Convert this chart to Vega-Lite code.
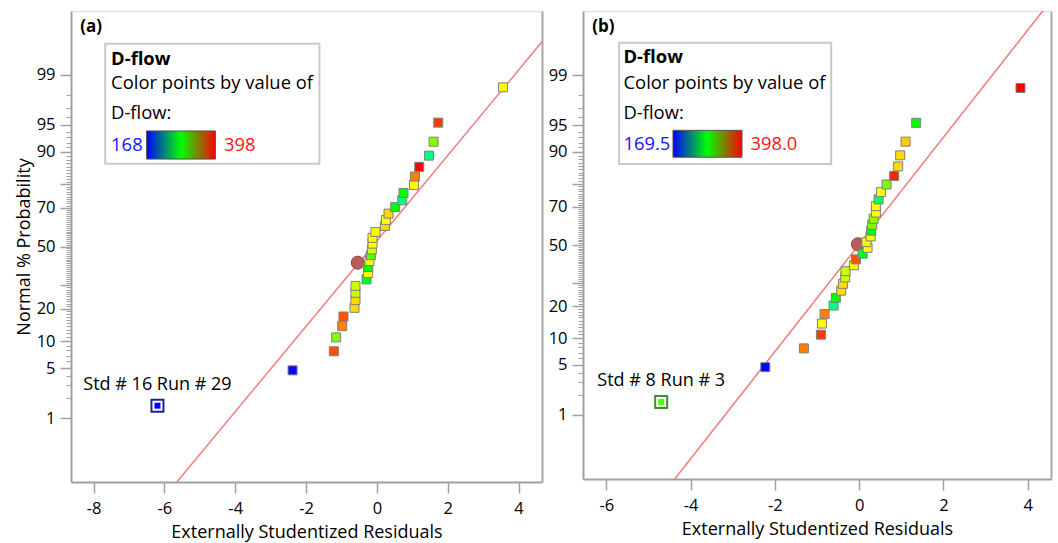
{
  "$schema": "https://vega.github.io/schema/vega-lite/v6.json",
  "padding": {"left": 15, "top": 11, "right": 5, "bottom": 1},
  "spacing": 6,
  "config": {
    "view": {"stroke": null},
    "font": "Open Sans",
    "axis": {"labelFont": "Open Sans", "titleFont": "Open Sans", "labelColor": "#000000", "titleColor": "#000000", "grid": false, "labelOverlap": false, "labelFlush": false},
    "text": {"font": "Open Sans"}
  },
  "resolve": {"scale": {"color": "independent"}},
  "datasets": {
    "left": [
      {"residual": -6.195, "normal_score": -2.154, "dflow": 168, "label": "Std # 16 Run # 29"},
      {"residual": -2.381, "normal_score": -1.676, "dflow": 170},
      {"residual": -1.215, "normal_score": -1.418, "dflow": 380},
      {"residual": -1.150, "normal_score": -1.230, "dflow": 312},
      {"residual": -0.980, "normal_score": -1.078, "dflow": 369},
      {"residual": -0.944, "normal_score": -0.947, "dflow": 380},
      {"residual": -0.633, "normal_score": -0.830, "dflow": 349},
      {"residual": -0.605, "normal_score": -0.725, "dflow": 349},
      {"residual": -0.605, "normal_score": -0.626, "dflow": 329},
      {"residual": -0.605, "normal_score": -0.533, "dflow": 329},
      {"residual": -0.294, "normal_score": -0.445, "dflow": 278},
      {"residual": -0.246, "normal_score": -0.360, "dflow": 340},
      {"residual": -0.246, "normal_score": -0.278, "dflow": 283},
      {"residual": -0.209, "normal_score": -0.197, "dflow": 340},
      {"residual": -0.169, "normal_score": -0.118, "dflow": 300},
      {"residual": -0.141, "normal_score": -0.039, "dflow": 329},
      {"residual": -0.124, "normal_score": 0.039, "dflow": 340},
      {"residual": -0.124, "normal_score": 0.118, "dflow": 340},
      {"residual": -0.040, "normal_score": 0.197, "dflow": 340},
      {"residual": 0.226, "normal_score": 0.278, "dflow": 349},
      {"residual": 0.254, "normal_score": 0.360, "dflow": 340},
      {"residual": 0.328, "normal_score": 0.445, "dflow": 349},
      {"residual": 0.517, "normal_score": 0.533, "dflow": 283},
      {"residual": 0.715, "normal_score": 0.626, "dflow": 254},
      {"residual": 0.751, "normal_score": 0.725, "dflow": 283},
      {"residual": 1.045, "normal_score": 0.830, "dflow": 340},
      {"residual": 1.073, "normal_score": 0.947, "dflow": 369},
      {"residual": 1.195, "normal_score": 1.078, "dflow": 398},
      {"residual": 1.469, "normal_score": 1.230, "dflow": 254},
      {"residual": 1.599, "normal_score": 1.418, "dflow": 312},
      {"residual": 1.732, "normal_score": 1.676, "dflow": 385},
      {"residual": 3.562, "normal_score": 2.154, "dflow": 340}
    ],
    "left_line": [
      {"residual": -5.646, "normal_score": -3.187},
      {"residual": 4.661, "normal_score": 2.770}
    ],
    "left_handle": [{"residual": -0.54, "normal_score": -0.219}],
    "right": [
      {"residual": -4.700, "normal_score": -2.154, "dflow": 300, "label": "Std # 8 Run # 3"},
      {"residual": -2.229, "normal_score": -1.676, "dflow": 169.5},
      {"residual": -1.313, "normal_score": -1.418, "dflow": 369},
      {"residual": -0.909, "normal_score": -1.230, "dflow": 385},
      {"residual": -0.885, "normal_score": -1.078, "dflow": 340},
      {"residual": -0.821, "normal_score": -0.947, "dflow": 369},
      {"residual": -0.608, "normal_score": -0.830, "dflow": 254},
      {"residual": -0.553, "normal_score": -0.725, "dflow": 283},
      {"residual": -0.427, "normal_score": -0.626, "dflow": 349},
      {"residual": -0.387, "normal_score": -0.533, "dflow": 349},
      {"residual": -0.332, "normal_score": -0.445, "dflow": 329},
      {"residual": -0.323, "normal_score": -0.360, "dflow": 329},
      {"residual": -0.126, "normal_score": -0.278, "dflow": 340},
      {"residual": -0.078, "normal_score": -0.197, "dflow": 380},
      {"residual": 0.081, "normal_score": -0.118, "dflow": 275},
      {"residual": 0.199, "normal_score": -0.039, "dflow": 340},
      {"residual": 0.171, "normal_score": 0.039, "dflow": 340},
      {"residual": 0.271, "normal_score": 0.118, "dflow": 340},
      {"residual": 0.285, "normal_score": 0.197, "dflow": 283},
      {"residual": 0.309, "normal_score": 0.278, "dflow": 310},
      {"residual": 0.342, "normal_score": 0.360, "dflow": 315},
      {"residual": 0.396, "normal_score": 0.445, "dflow": 340},
      {"residual": 0.396, "normal_score": 0.533, "dflow": 340},
      {"residual": 0.460, "normal_score": 0.626, "dflow": 260},
      {"residual": 0.515, "normal_score": 0.725, "dflow": 340},
      {"residual": 0.650, "normal_score": 0.830, "dflow": 310},
      {"residual": 0.831, "normal_score": 0.947, "dflow": 390},
      {"residual": 0.926, "normal_score": 1.078, "dflow": 349},
      {"residual": 0.973, "normal_score": 1.230, "dflow": 349},
      {"residual": 1.101, "normal_score": 1.418, "dflow": 352},
      {"residual": 1.353, "normal_score": 1.676, "dflow": 285},
      {"residual": 3.829, "normal_score": 2.154, "dflow": 398}
    ],
    "right_line": [
      {"residual": -4.379, "normal_score": -3.21},
      {"residual": 4.356, "normal_score": 3.21}
    ],
    "right_handle": [{"residual": -0.03, "normal_score": 0.01}]
  },
  "hconcat": [
    {
      "width": 471,
      "height": 471,
      "resolve": {"axis": {"x": "independent", "y": "independent"}},
      "layer": [
        {
          "data": {"name": "left_line"},
          "mark": {"type": "line", "color": "#f37b7b", "strokeWidth": 1.5, "clip": true},
          "encoding": {
            "x": {"field": "residual", "type": "quantitative", "scale": {"domain": [-8.636, 4.661], "nice": false, "zero": false},
                  "axis": {"orient": "top", "domainColor": "#e2e2e2", "domainWidth": 1.5, "ticks": false, "labels": false, "title": null}},
            "y": {"field": "normal_score", "type": "quantitative", "scale": {"domain": [-3.187, 3.187], "nice": false, "zero": false},
                  "axis": {"orient": "right", "domainColor": "#a8a8a8", "domainWidth": 2, "ticks": false, "labels": false, "title": null}}
          }
        },
        {
          "data": {"name": "left_handle"},
          "mark": {"type": "point", "shape": "circle", "filled": true, "size": 170, "fill": "#b85c5c", "stroke": "#874343", "strokeWidth": 1, "opacity": 1},
          "encoding": {
            "x": {"field": "residual", "type": "quantitative", "scale": {"domain": [-8.636, 4.661], "nice": false, "zero": false}, "axis": null},
            "y": {"field": "normal_score", "type": "quantitative", "scale": {"domain": [-3.187, 3.187], "nice": false, "zero": false},
                  "axis": {"orient": "left", "domain": false, "labels": false, "title": null, "tickSize": 5, "tickWidth": 1, "tickColor": "#a0a0a0",
                           "values": [-2.0537,-1.8808,-1.7507,-1.5548,-1.4758,-1.4051,-1.3408,-1.2265,-1.175,-1.1264,-1.0803,-1.0364,-0.9945,-0.9542,-0.9154,-0.8779,-0.8064,-0.7722,-0.7388,-0.7063,-0.6745,-0.6433,-0.6128,-0.5828,-0.5534,-0.4959,-0.4677,-0.4399,-0.4125,-0.3853,-0.3585,-0.3319,-0.3055,-0.2793,-0.2533,-0.2275,-0.2019,-0.1764,-0.151,-0.1257,-0.1004,-0.0753,-0.0502,-0.0251,0.0251,0.0502,0.0753,0.1004,0.1257,0.151,0.1764,0.2019,0.2275,0.2533,0.2793,0.3055,0.3319,0.3585,0.3853,0.4125,0.4399,0.4677,0.4959,0.5534,0.5828,0.6128,0.6433,0.6745,0.7063,0.7388,0.7722,0.8064,0.8779,0.9154,0.9542,0.9945,1.0364,1.0803,1.1264,1.175,1.2265,1.3408,1.4051,1.4758,1.5548,1.7507,1.8808,2.0537]}}
          }
        },
        {
          "data": {"values": [{}]},
          "mark": {"type": "rect", "fill": "#ffffff", "stroke": "#c9c9c9", "strokeWidth": 2},
          "encoding": {
            "x": {"datum": -7.671, "type": "quantitative", "scale": {"domain": [-8.636, 4.661], "nice": false, "zero": false}, "axis": null},
            "x2": {"datum": -1.623},
            "y": {"datum": 2.744, "type": "quantitative", "scale": {"domain": [-3.187, 3.187], "nice": false, "zero": false}, "axis": null},
            "y2": {"datum": 1.120}
          }
        },
        {
          "data": {"values": [{}]},
          "mark": {"type": "text", "text": "D-flow", "fontSize": 18.4, "fontWeight": "bold", "align": "left", "baseline": "middle", "color": "#000000"},
          "encoding": {
            "x": {"datum": -7.504, "type": "quantitative", "scale": {"domain": [-8.636, 4.661], "nice": false, "zero": false}, "axis": null},
            "y": {"datum": 2.535, "type": "quantitative", "scale": {"domain": [-3.187, 3.187], "nice": false, "zero": false}, "axis": null}
          }
        },
        {
          "data": {"values": [{}]},
          "mark": {"type": "text", "text": "Color points by value of", "fontSize": 18.4, "align": "left", "baseline": "middle", "color": "#000000"},
          "encoding": {
            "x": {"datum": -7.504, "type": "quantitative", "scale": {"domain": [-8.636, 4.661], "nice": false, "zero": false}, "axis": null},
            "y": {"datum": 2.218, "type": "quantitative", "scale": {"domain": [-3.187, 3.187], "nice": false, "zero": false}, "axis": null}
          }
        },
        {
          "data": {"values": [{}]},
          "mark": {"type": "text", "text": "D-flow:", "fontSize": 18.4, "align": "left", "baseline": "middle", "color": "#000000"},
          "encoding": {
            "x": {"datum": -7.504, "type": "quantitative", "scale": {"domain": [-8.636, 4.661], "nice": false, "zero": false}, "axis": null},
            "y": {"datum": 1.806, "type": "quantitative", "scale": {"domain": [-3.187, 3.187], "nice": false, "zero": false}, "axis": null}
          }
        },
        {
          "data": {"values": [{}]},
          "mark": {"type": "text", "text": "168", "fontSize": 18.4, "align": "left", "baseline": "middle", "color": "#1414ff"},
          "encoding": {
            "x": {"datum": -7.504, "type": "quantitative", "scale": {"domain": [-8.636, 4.661], "nice": false, "zero": false}, "axis": null},
            "y": {"datum": 1.379, "type": "quantitative", "scale": {"domain": [-3.187, 3.187], "nice": false, "zero": false}, "axis": null}
          }
        },
        {
          "data": {"values": [{}]},
          "mark": {"type": "rect", "stroke": "#555555", "strokeWidth": 1,
                   "fill": {"gradient": "linear", "x1": 0, "y1": 0, "x2": 1, "y2": 0, "stops": [{"offset": 0, "color": "#0000ff"}, {"offset": 0.5, "color": "#00ff00"}, {"offset": 1, "color": "#ff0000"}]}},
          "encoding": {
            "x": {"datum": -6.502, "type": "quantitative", "scale": {"domain": [-8.636, 4.661], "nice": false, "zero": false}, "axis": null},
            "x2": {"datum": -4.560},
            "y": {"datum": 1.564, "type": "quantitative", "scale": {"domain": [-3.187, 3.187], "nice": false, "zero": false}, "axis": null},
            "y2": {"datum": 1.183}
          }
        },
        {
          "data": {"values": [{}]},
          "mark": {"type": "text", "text": "398", "fontSize": 18.4, "align": "left", "baseline": "middle", "color": "#ff1414"},
          "encoding": {
            "x": {"datum": -4.317, "type": "quantitative", "scale": {"domain": [-8.636, 4.661], "nice": false, "zero": false}, "axis": null},
            "y": {"datum": 1.379, "type": "quantitative", "scale": {"domain": [-3.187, 3.187], "nice": false, "zero": false}, "axis": null}
          }
        },
        {
          "data": {"values": [{}]},
          "mark": {"type": "text", "text": "(a)", "fontSize": 17, "fontWeight": "bold", "align": "left", "baseline": "middle", "color": "#000000"},
          "encoding": {
            "x": {"datum": -8.377, "type": "quantitative", "scale": {"domain": [-8.636, 4.661], "nice": false, "zero": false}, "axis": null},
            "y": {"datum": 2.966, "type": "quantitative", "scale": {"domain": [-3.187, 3.187], "nice": false, "zero": false}, "axis": null}
          }
        },
        {
          "data": {"name": "left"},
          "transform": [{"filter": "datum.label"}],
          "mark": {"type": "square", "size": 144, "filled": true, "fill": "#ffffff", "stroke": "#1f1f9c", "strokeWidth": 2, "opacity": 1},
          "encoding": {
            "x": {"field": "residual", "type": "quantitative", "scale": {"domain": [-8.636, 4.661], "nice": false, "zero": false}, "axis": null},
            "y": {"field": "normal_score", "type": "quantitative", "scale": {"domain": [-3.187, 3.187], "nice": false, "zero": false}, "axis": null}
          }
        },
        {
          "data": {"name": "left"},
          "mark": {"type": "square", "filled": true, "strokeWidth": 1, "opacity": 1},
          "encoding": {
            "x": {"field": "residual", "type": "quantitative", "scale": {"domain": [-8.636, 4.661], "nice": false, "zero": false},
                  "axis": {"orient": "bottom", "values": [-8, -6, -4, -2, 0, 2, 4], "labelExpr": "(datum.value < 0 ? '-' : '') + abs(datum.value)",
                           "tickSize": 11, "tickWidth": 1.5, "tickColor": "#a0a0a0", "domainColor": "#a0a0a0", "domainWidth": 2,
                           "labelFontSize": 16.5, "labelPadding": 7, "title": "Externally Studentized Residuals", "titleFontSize": 18, "titleFontWeight": "normal", "titlePadding": 7}},
            "y": {"field": "normal_score", "type": "quantitative", "scale": {"domain": [-3.187, 3.187], "nice": false, "zero": false},
                  "axis": {"orient": "left", "values": [-2.3263, -1.6449, -1.2816, -0.8416, -0.5244, 0, 0.5244, 0.8416, 1.2816, 1.6449, 2.3263],
                           "labelExpr": "datum.value < -2 ? '1' : datum.value < -1.5 ? '5' : datum.value < -1 ? '10' : datum.value < -0.7 ? '20' : datum.value < -0.3 ? '' : datum.value < 0.3 ? '50' : datum.value < 0.7 ? '70' : datum.value < 1 ? '' : datum.value < 1.5 ? '90' : datum.value < 2 ? '95' : '99'",
                           "tickSize": 11, "tickWidth": 1.5, "tickColor": "#a0a0a0", "domainColor": "#a0a0a0", "domainWidth": 2,
                           "labelFontSize": 16.5, "labelPadding": 5, "title": "Normal % Probability", "titleFontSize": 18, "titleFontWeight": "normal", "titlePadding": 3}},
            "color": {"field": "dflow", "type": "quantitative", "scale": {"domain": [168, 283, 398], "range": ["#0000ff", "#00ff00", "#ff0000"], "interpolate": "hsl"}, "legend": null},
            "size": {"condition": {"test": "datum.label", "value": 49}, "value": 81},
            "stroke": {"condition": {"test": "datum.label", "value": "#ffffff"}, "value": "#7f7f7f"}
          }
        },
        {
          "data": {"name": "left"},
          "transform": [{"filter": "datum.label"}],
          "mark": {"type": "text", "fontSize": 18, "align": "center", "baseline": "middle", "dy": -21, "color": "#000000"},
          "encoding": {
            "x": {"field": "residual", "type": "quantitative", "scale": {"domain": [-8.636, 4.661], "nice": false, "zero": false}, "axis": null},
            "y": {"field": "normal_score", "type": "quantitative", "scale": {"domain": [-3.187, 3.187], "nice": false, "zero": false}, "axis": null},
            "text": {"field": "label"}
          }
        }
      ]
    },
    {
      "width": 468,
      "height": 468,
      "resolve": {"axis": {"x": "independent", "y": "independent"}},
      "layer": [
        {
          "data": {"name": "right_line"},
          "mark": {"type": "line", "color": "#f37b7b", "strokeWidth": 1.5, "clip": true},
          "encoding": {
            "x": {"field": "residual", "type": "quantitative", "scale": {"domain": [-6.556, 4.553], "nice": false, "zero": false},
                  "axis": {"orient": "top", "domainColor": "#e2e2e2", "domainWidth": 1.5, "ticks": false, "labels": false, "title": null}},
            "y": {"field": "normal_score", "type": "quantitative", "scale": {"domain": [-3.21, 3.21], "nice": false, "zero": false},
                  "axis": {"orient": "right", "domainColor": "#a8a8a8", "domainWidth": 2, "ticks": false, "labels": false, "title": null}}
          }
        },
        {
          "data": {"name": "right_handle"},
          "mark": {"type": "point", "shape": "circle", "filled": true, "size": 170, "fill": "#b85c5c", "stroke": "#874343", "strokeWidth": 1, "opacity": 1},
          "encoding": {
            "x": {"field": "residual", "type": "quantitative", "scale": {"domain": [-6.556, 4.553], "nice": false, "zero": false}, "axis": null},
            "y": {"field": "normal_score", "type": "quantitative", "scale": {"domain": [-3.21, 3.21], "nice": false, "zero": false},
                  "axis": {"orient": "left", "domain": false, "labels": false, "title": null, "tickSize": 5, "tickWidth": 1, "tickColor": "#a0a0a0",
                           "values": [-2.0537,-1.8808,-1.7507,-1.5548,-1.4758,-1.4051,-1.3408,-1.2265,-1.175,-1.1264,-1.0803,-1.0364,-0.9945,-0.9542,-0.9154,-0.8779,-0.8064,-0.7722,-0.7388,-0.7063,-0.6745,-0.6433,-0.6128,-0.5828,-0.5534,-0.4959,-0.4677,-0.4399,-0.4125,-0.3853,-0.3585,-0.3319,-0.3055,-0.2793,-0.2533,-0.2275,-0.2019,-0.1764,-0.151,-0.1257,-0.1004,-0.0753,-0.0502,-0.0251,0.0251,0.0502,0.0753,0.1004,0.1257,0.151,0.1764,0.2019,0.2275,0.2533,0.2793,0.3055,0.3319,0.3585,0.3853,0.4125,0.4399,0.4677,0.4959,0.5534,0.5828,0.6128,0.6433,0.6745,0.7063,0.7388,0.7722,0.8064,0.8779,0.9154,0.9542,0.9945,1.0364,1.0803,1.1264,1.175,1.2265,1.3408,1.4051,1.4758,1.5548,1.7507,1.8808,2.0537]}}
          }
        },
        {
          "data": {"values": [{}]},
          "mark": {"type": "rect", "fill": "#ffffff", "stroke": "#c9c9c9", "strokeWidth": 2},
          "encoding": {
            "x": {"datum": -5.699, "type": "quantitative", "scale": {"domain": [-6.556, 4.553], "nice": false, "zero": false}, "axis": null},
            "x2": {"datum": -0.665},
            "y": {"datum": 2.774, "type": "quantitative", "scale": {"domain": [-3.21, 3.21], "nice": false, "zero": false}, "axis": null},
            "y2": {"datum": 1.111}
          }
        },
        {
          "data": {"values": [{}]},
          "mark": {"type": "text", "text": "D-flow", "fontSize": 18.4, "fontWeight": "bold", "align": "left", "baseline": "middle", "color": "#000000"},
          "encoding": {
            "x": {"datum": -5.595, "type": "quantitative", "scale": {"domain": [-6.556, 4.553], "nice": false, "zero": false}, "axis": null},
            "y": {"datum": 2.576, "type": "quantitative", "scale": {"domain": [-3.21, 3.21], "nice": false, "zero": false}, "axis": null}
          }
        },
        {
          "data": {"values": [{}]},
          "mark": {"type": "text", "text": "Color points by value of", "fontSize": 18.4, "align": "left", "baseline": "middle", "color": "#000000"},
          "encoding": {
            "x": {"datum": -5.595, "type": "quantitative", "scale": {"domain": [-6.556, 4.553], "nice": false, "zero": false}, "axis": null},
            "y": {"datum": 2.229, "type": "quantitative", "scale": {"domain": [-3.21, 3.21], "nice": false, "zero": false}, "axis": null}
          }
        },
        {
          "data": {"values": [{}]},
          "mark": {"type": "text", "text": "D-flow:", "fontSize": 18.4, "align": "left", "baseline": "middle", "color": "#000000"},
          "encoding": {
            "x": {"datum": -5.595, "type": "quantitative", "scale": {"domain": [-6.556, 4.553], "nice": false, "zero": false}, "axis": null},
            "y": {"datum": 1.813, "type": "quantitative", "scale": {"domain": [-3.21, 3.21], "nice": false, "zero": false}, "axis": null}
          }
        },
        {
          "data": {"values": [{}]},
          "mark": {"type": "text", "text": "169.5", "fontSize": 18.4, "align": "left", "baseline": "middle", "color": "#1414ff"},
          "encoding": {
            "x": {"datum": -5.595, "type": "quantitative", "scale": {"domain": [-6.556, 4.553], "nice": false, "zero": false}, "axis": null},
            "y": {"datum": 1.384, "type": "quantitative", "scale": {"domain": [-3.21, 3.21], "nice": false, "zero": false}, "axis": null}
          }
        },
        {
          "data": {"values": [{}]},
          "mark": {"type": "rect", "stroke": "#555555", "strokeWidth": 1,
                   "fill": {"gradient": "linear", "x1": 0, "y1": 0, "x2": 1, "y2": 0, "stops": [{"offset": 0, "color": "#0000ff"}, {"offset": 0.5, "color": "#00ff00"}, {"offset": 1, "color": "#ff0000"}]}},
          "encoding": {
            "x": {"datum": -4.420, "type": "quantitative", "scale": {"domain": [-6.556, 4.553], "nice": false, "zero": false}, "axis": null},
            "x2": {"datum": -2.782},
            "y": {"datum": 1.573, "type": "quantitative", "scale": {"domain": [-3.21, 3.21], "nice": false, "zero": false}, "axis": null},
            "y2": {"datum": 1.204}
          }
        },
        {
          "data": {"values": [{}]},
          "mark": {"type": "text", "text": "398.0", "fontSize": 18.4, "align": "left", "baseline": "middle", "color": "#ff1414"},
          "encoding": {
            "x": {"datum": -2.582, "type": "quantitative", "scale": {"domain": [-6.556, 4.553], "nice": false, "zero": false}, "axis": null},
            "y": {"datum": 1.384, "type": "quantitative", "scale": {"domain": [-3.21, 3.21], "nice": false, "zero": false}, "axis": null}
          }
        },
        {
          "data": {"values": [{}]},
          "mark": {"type": "text", "text": "(b)", "fontSize": 17, "fontWeight": "bold", "align": "left", "baseline": "middle", "color": "#000000"},
          "encoding": {
            "x": {"datum": -6.338, "type": "quantitative", "scale": {"domain": [-6.556, 4.553], "nice": false, "zero": false}, "axis": null},
            "y": {"datum": 2.992, "type": "quantitative", "scale": {"domain": [-3.21, 3.21], "nice": false, "zero": false}, "axis": null}
          }
        },
        {
          "data": {"name": "right"},
          "transform": [{"filter": "datum.label"}],
          "mark": {"type": "square", "size": 144, "filled": true, "fill": "#ffffff", "stroke": "#3d8f2f", "strokeWidth": 2, "opacity": 1},
          "encoding": {
            "x": {"field": "residual", "type": "quantitative", "scale": {"domain": [-6.556, 4.553], "nice": false, "zero": false}, "axis": null},
            "y": {"field": "normal_score", "type": "quantitative", "scale": {"domain": [-3.21, 3.21], "nice": false, "zero": false}, "axis": null}
          }
        },
        {
          "data": {"name": "right"},
          "mark": {"type": "square", "filled": true, "strokeWidth": 1, "opacity": 1},
          "encoding": {
            "x": {"field": "residual", "type": "quantitative", "scale": {"domain": [-6.556, 4.553], "nice": false, "zero": false},
                  "axis": {"orient": "bottom", "values": [-6, -4, -2, 0, 2, 4], "labelExpr": "(datum.value < 0 ? '-' : '') + abs(datum.value)",
                           "tickSize": 11, "tickWidth": 1.5, "tickColor": "#a0a0a0", "domainColor": "#a0a0a0", "domainWidth": 2,
                           "labelFontSize": 16.5, "labelPadding": 7, "title": "Externally Studentized Residuals", "titleFontSize": 18, "titleFontWeight": "normal", "titlePadding": 7}},
            "y": {"field": "normal_score", "type": "quantitative", "scale": {"domain": [-3.21, 3.21], "nice": false, "zero": false},
                  "axis": {"orient": "left", "values": [-2.3263, -1.6449, -1.2816, -0.8416, -0.5244, 0, 0.5244, 0.8416, 1.2816, 1.6449, 2.3263],
                           "labelExpr": "datum.value < -2 ? '1' : datum.value < -1.5 ? '5' : datum.value < -1 ? '10' : datum.value < -0.7 ? '20' : datum.value < -0.3 ? '' : datum.value < 0.3 ? '50' : datum.value < 0.7 ? '70' : datum.value < 1 ? '' : datum.value < 1.5 ? '90' : datum.value < 2 ? '95' : '99'",
                           "tickSize": 11, "tickWidth": 1.5, "tickColor": "#a0a0a0", "domainColor": "#a0a0a0", "domainWidth": 2,
                           "labelFontSize": 16.5, "labelPadding": 5, "title": null}},
            "color": {"field": "dflow", "type": "quantitative", "scale": {"domain": [169.5, 283.75, 398], "range": ["#0000ff", "#00ff00", "#ff0000"], "interpolate": "hsl"}, "legend": null},
            "size": {"condition": {"test": "datum.label", "value": 49}, "value": 81},
            "stroke": {"condition": {"test": "datum.label", "value": "#ffffff"}, "value": "#7f7f7f"}
          }
        },
        {
          "data": {"name": "right"},
          "transform": [{"filter": "datum.label"}],
          "mark": {"type": "text", "fontSize": 18, "align": "center", "baseline": "middle", "dy": -21, "color": "#000000"},
          "encoding": {
            "x": {"field": "residual", "type": "quantitative", "scale": {"domain": [-6.556, 4.553], "nice": false, "zero": false}, "axis": null},
            "y": {"field": "normal_score", "type": "quantitative", "scale": {"domain": [-3.21, 3.21], "nice": false, "zero": false}, "axis": null},
            "text": {"field": "label"}
          }
        }
      ]
    }
  ]
}
